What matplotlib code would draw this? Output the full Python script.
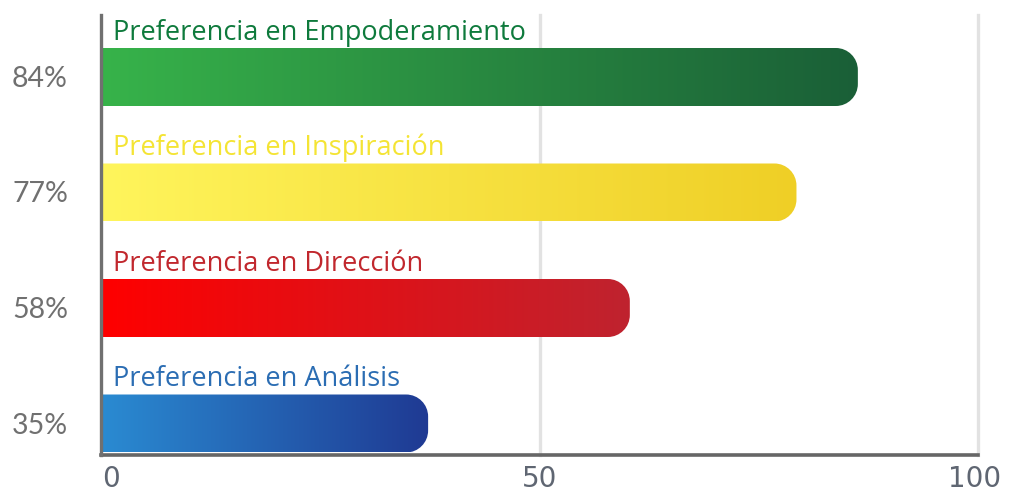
import numpy as np
import matplotlib
matplotlib.use("Agg")
import matplotlib.pyplot as plt
from matplotlib.path import Path
from matplotlib.patches import PathPatch
from matplotlib.colors import to_rgb
from matplotlib import transforms

# ---- data ----
categories = ["Preferencia en Empoderamiento", "Preferencia en Inspiración",
              "Preferencia en Dirección", "Preferencia en Análisis"]
values = [84, 77, 58, 35]
value_labels = ["84%", "77%", "58%", "35%"]
x_ticks = [0, 50, 100]
x_tick_labels = ["0", "50", "100"]

# ---- styles ----
grad_left = ["#37b34a", "#fff55c", "#ff0000", "#2a8bd2"]
grad_right = ["#1a5f37", "#efcf26", "#bf232f", "#1f3a93"]
label_colors = ["#0e7a3c", "#f4e434", "#c1272d", "#2b6db3"]

W, H = 1009, 491
fig = plt.figure(figsize=(W / 100, H / 100), dpi=100)
ax_l, ax_r, ax_t, ax_b = 101, 978, 15, 455
ax = fig.add_axes([ax_l / W, 1 - ax_b / H, (ax_r - ax_l) / W, (ax_b - ax_t) / H])

step_px = 115.5
top_units = (77 - ax_t) / step_px
ylim_top = -top_units
ylim_bot = ylim_top + (ax_b - ax_t) / step_px
px_x = (ax_r - ax_l) / 100.0  # px per x unit
bar_h = 58 / step_px
cap = 2.3           # rounded cap extension (x units)
r_px = 22
rx = r_px / px_x
ry = r_px / step_px
k = 0.5523

for i, (cat, v) in enumerate(zip(categories, values)):
    L = v + cap
    y0 = i - bar_h / 2
    y1 = i + bar_h / 2
    verts = [(0, y0), (L - rx, y0),
             (L - rx + k * rx, y0), (L, y0 + ry - k * ry), (L, y0 + ry),
             (L, y1 - ry),
             (L, y1 - ry + k * ry), (L - rx + k * rx, y1), (L - rx, y1),
             (0, y1), (0, y0)]
    codes = [Path.MOVETO, Path.LINETO,
             Path.CURVE4, Path.CURVE4, Path.CURVE4,
             Path.LINETO,
             Path.CURVE4, Path.CURVE4, Path.CURVE4,
             Path.LINETO, Path.CLOSEPOLY]
    patch = PathPatch(Path(verts, codes), facecolor="none", edgecolor="none")
    ax.add_patch(patch)
    c0 = np.array(to_rgb(grad_left[i]))
    c1 = np.array(to_rgb(grad_right[i]))
    t = np.linspace(0, 1, 256)[None, :, None]
    img = c0[None, None, :] * (1 - t) + c1[None, None, :] * t
    im = ax.imshow(img, extent=[0, L, y1, y0], aspect="auto",
                   interpolation="bilinear", zorder=2)
    im.set_clip_path(patch)
    ax.text(1.35, y0 - 8 / step_px, cat, color=label_colors[i],
            fontsize=19.5, family="Open Sans", va="baseline", ha="left",
            zorder=3)
    fig.text(12 / W, 1 - (79 + i * step_px) / H, value_labels[i],
             color="#707070", fontsize=20.5,
             family=["Liberation Sans Narrow", "Lato"],
             va="center", ha="left")

ax.set_xlim(0, 100)
ax.set_ylim(ylim_bot, ylim_top)

for xv in [50, 100]:
    ax.axvline(xv, color="#e2e2e2", lw=2.4, zorder=1, clip_on=False)

for s in ["top", "right"]:
    ax.spines[s].set_visible(False)
ax.spines["left"].set_color("#707070")
ax.spines["left"].set_linewidth(2.4)
ax.spines["bottom"].set_color("#666666")
ax.spines["bottom"].set_linewidth(2.6)
ax.spines["left"].set_zorder(4)

ax.set_yticks([])
ax.set_xticks(x_ticks)
ax.set_xticklabels(x_tick_labels, color="#5f6672", fontsize=20,
                   family="DejaVu Sans")
ax.tick_params(axis="x", length=0, pad=7)
lbls = ax.get_xticklabels()
lbls[0].set_horizontalalignment("left")
lbls[0].set_transform(lbls[0].get_transform() +
                      transforms.ScaledTranslation(1 / 100, 0, fig.dpi_scale_trans))
lbls[2].set_transform(lbls[2].get_transform() +
                      transforms.ScaledTranslation(-3 / 100, 0, fig.dpi_scale_trans))

fig.savefig("out.png", dpi=100)
